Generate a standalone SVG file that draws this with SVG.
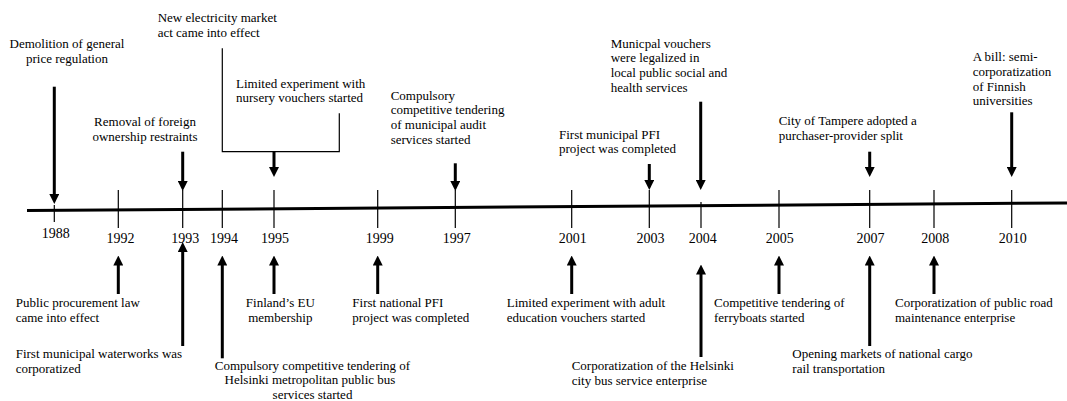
<svg xmlns="http://www.w3.org/2000/svg" width="1067" height="401" viewBox="0 0 1067 401">
<style>
text{font-family:"Liberation Serif","Times New Roman",serif;font-size:13px;fill:#000}
.yr{font-size:14px;text-anchor:middle}
.c{text-anchor:middle}
.tick{stroke:#000;stroke-width:1.2;fill:none}
.axis{stroke:#000;stroke-width:3;fill:none}
.arr{stroke:#000;stroke-width:3;fill:none;marker-end:url(#ah)}
.br{stroke:#000;stroke-width:1.2;fill:none}
</style>
<defs>
<marker id="ah" viewBox="0 0 10 10" refX="1" refY="5" markerWidth="10" markerHeight="10" markerUnits="userSpaceOnUse" orient="auto">
<path d="M0,0 L10,5 L0,10 z" fill="#000"/>
</marker>
</defs>
<rect width="1067" height="401" fill="#fff"/>
<g id="axis">
<line class="axis" x1="27" y1="210.6" x2="1067" y2="203"/>
<line class="tick" x1="54.3" y1="205" x2="54.3" y2="222"/>
<line class="tick" x1="118.3" y1="190" x2="118.3" y2="228"/>
<line class="tick" x1="182.7" y1="190" x2="182.7" y2="228"/>
<line class="tick" x1="222.3" y1="190" x2="222.3" y2="228"/>
<line class="tick" x1="274" y1="190" x2="274" y2="228"/>
<line class="tick" x1="377.7" y1="190" x2="377.7" y2="228"/>
<line class="tick" x1="455.3" y1="190" x2="455.3" y2="228"/>
<line class="tick" x1="571.7" y1="190" x2="571.7" y2="228"/>
<line class="tick" x1="649.3" y1="190" x2="649.3" y2="228"/>
<line class="tick" x1="701" y1="202" x2="701" y2="228"/>
<line class="tick" x1="779" y1="190" x2="779" y2="228"/>
<line class="tick" x1="869.7" y1="190" x2="869.7" y2="228"/>
<line class="tick" x1="934" y1="190" x2="934" y2="228"/>
<line class="tick" x1="1011.7" y1="190" x2="1011.7" y2="228"/>
<text class="yr" x="55.8" y="237.5">1988</text>
<text class="yr" x="120.5" y="243.3">1992</text>
<text class="yr" x="185.3" y="243.3">1993</text>
<text class="yr" x="224" y="243.3">1994</text>
<text class="yr" x="275" y="243.3">1995</text>
<text class="yr" x="379.7" y="243.3">1999</text>
<text class="yr" x="456.7" y="243.3">1997</text>
<text class="yr" x="572.8" y="243.3">2001</text>
<text class="yr" x="650.5" y="243.3">2003</text>
<text class="yr" x="702.8" y="243.3">2004</text>
<text class="yr" x="779.8" y="243.3">2005</text>
<text class="yr" x="870.5" y="243.3">2007</text>
<text class="yr" x="935.2" y="243.3">2008</text>
<text class="yr" x="1012.8" y="243.3">2010</text>
</g>
<g id="connectors">
<polyline class="br" points="222.3,48.3 222.3,151.7 339.3,151.7 339.3,113.3"/>
<line class="arr" x1="54.3" y1="86.7" x2="54.3" y2="195"/>
<line class="arr" x1="182.7" y1="151.7" x2="182.7" y2="182"/>
<line class="arr" x1="274" y1="151.7" x2="274" y2="168"/>
<line class="arr" x1="455.3" y1="163.3" x2="455.3" y2="182"/>
<line class="arr" x1="649.3" y1="164" x2="649.3" y2="181"/>
<line class="arr" x1="700.7" y1="101.7" x2="700.7" y2="181"/>
<line class="arr" x1="869.7" y1="151.7" x2="869.7" y2="168"/>
<line class="arr" x1="1011.7" y1="112.3" x2="1011.7" y2="168"/>
<line class="arr" x1="118.3" y1="294" x2="118.3" y2="264.5"/>
<line class="arr" x1="182.7" y1="346" x2="182.7" y2="251"/>
<line class="arr" x1="222.3" y1="358.3" x2="222.3" y2="264.5"/>
<line class="arr" x1="274" y1="294" x2="274" y2="264.5"/>
<line class="arr" x1="377.7" y1="294" x2="377.7" y2="264.5"/>
<line class="arr" x1="571.7" y1="294" x2="571.7" y2="264.5"/>
<line class="arr" x1="701" y1="357" x2="701" y2="273.5"/>
<line class="arr" x1="779" y1="294" x2="779" y2="264.5"/>
<line class="arr" x1="869.7" y1="346" x2="869.7" y2="264.5"/>
<line class="arr" x1="934" y1="294" x2="934" y2="264.5"/>
</g>
<g id="e1988">
<text class="c" x="67" y="48">Demolition of general</text>
<text class="c" x="67" y="63">price regulation</text>
</g>
<g id="e1995-electricity">
<text x="157.7" y="22">New electricity market</text>
<text x="157.7" y="37">act came into effect</text>
</g>
<g id="e1995-nursery">
<text x="236" y="87.5">Limited experiment with</text>
<text x="236" y="102">nursery vouchers started</text>
</g>
<g id="e1993-foreign">
<text class="c" x="145" y="125.5">Removal of foreign</text>
<text class="c" x="145" y="140.5">ownership restraints</text>
</g>
<g id="e1997-audit">
<text x="390.7" y="99.5">Compulsory</text>
<text x="390.7" y="114.3">competitive tendering</text>
<text x="390.7" y="129.1">of municipal audit</text>
<text x="390.7" y="143.9">services started</text>
</g>
<g id="e2004-vouchers">
<text x="610.7" y="47.5">Municpal vouchers</text>
<text x="610.7" y="62.3">were legalized in</text>
<text x="610.7" y="77.1">local public social and</text>
<text x="610.7" y="91.9">health services</text>
</g>
<g id="e2003-pfi">
<text x="559" y="138.5">First municipal PFI</text>
<text x="559" y="153">project was completed</text>
</g>
<g id="e2007-tampere">
<text x="778.7" y="125">City of Tampere adopted a</text>
<text x="778.7" y="140">purchaser-provider split</text>
</g>
<g id="e2010-bill">
<text x="972.7" y="61">A bill: semi-</text>
<text x="972.7" y="75.8">corporatization</text>
<text x="972.7" y="90.6">of Finnish</text>
<text x="972.7" y="105.4">universities</text>
</g>
<g id="e1992-procurement">
<text x="15.7" y="306.5">Public procurement law</text>
<text x="15.7" y="321.5">came into effect</text>
</g>
<g id="e1993-waterworks">
<text x="15.7" y="357.5">First municipal waterworks was</text>
<text x="15.7" y="372.5">corporatized</text>
</g>
<g id="e1994-bus">
<text class="c" x="312.5" y="369.5">Compulsory competitive tendering of</text>
<text class="c" x="310" y="384.3">Helsinki metropolitan public bus</text>
<text class="c" x="312.5" y="398.5">services started</text>
</g>
<g id="e1995-eu">
<text class="c" x="280.3" y="306.5">Finland’s EU</text>
<text class="c" x="280.3" y="321.5">membership</text>
</g>
<g id="e1999-pfi">
<text x="352.3" y="306.5">First national PFI</text>
<text x="352.3" y="321.5">project was completed</text>
</g>
<g id="e2001-adult">
<text x="506.7" y="306.5">Limited experiment with adult</text>
<text x="506.7" y="321.5">education vouchers started</text>
</g>
<g id="e2004-citybus">
<text x="571.7" y="369.5">Corporatization of the Helsinki</text>
<text x="571.7" y="385">city bus service enterprise</text>
</g>
<g id="e2005-ferry">
<text x="714" y="306.5">Competitive tendering of</text>
<text x="714" y="321.5">ferryboats started</text>
</g>
<g id="e2007-rail">
<text x="792.3" y="357.5">Opening markets of national cargo</text>
<text x="792.3" y="372.5">rail transportation</text>
</g>
<g id="e2008-road">
<text x="895" y="306.5">Corporatization of public road</text>
<text x="895" y="321.5">maintenance enterprise</text>
</g>
</svg>
